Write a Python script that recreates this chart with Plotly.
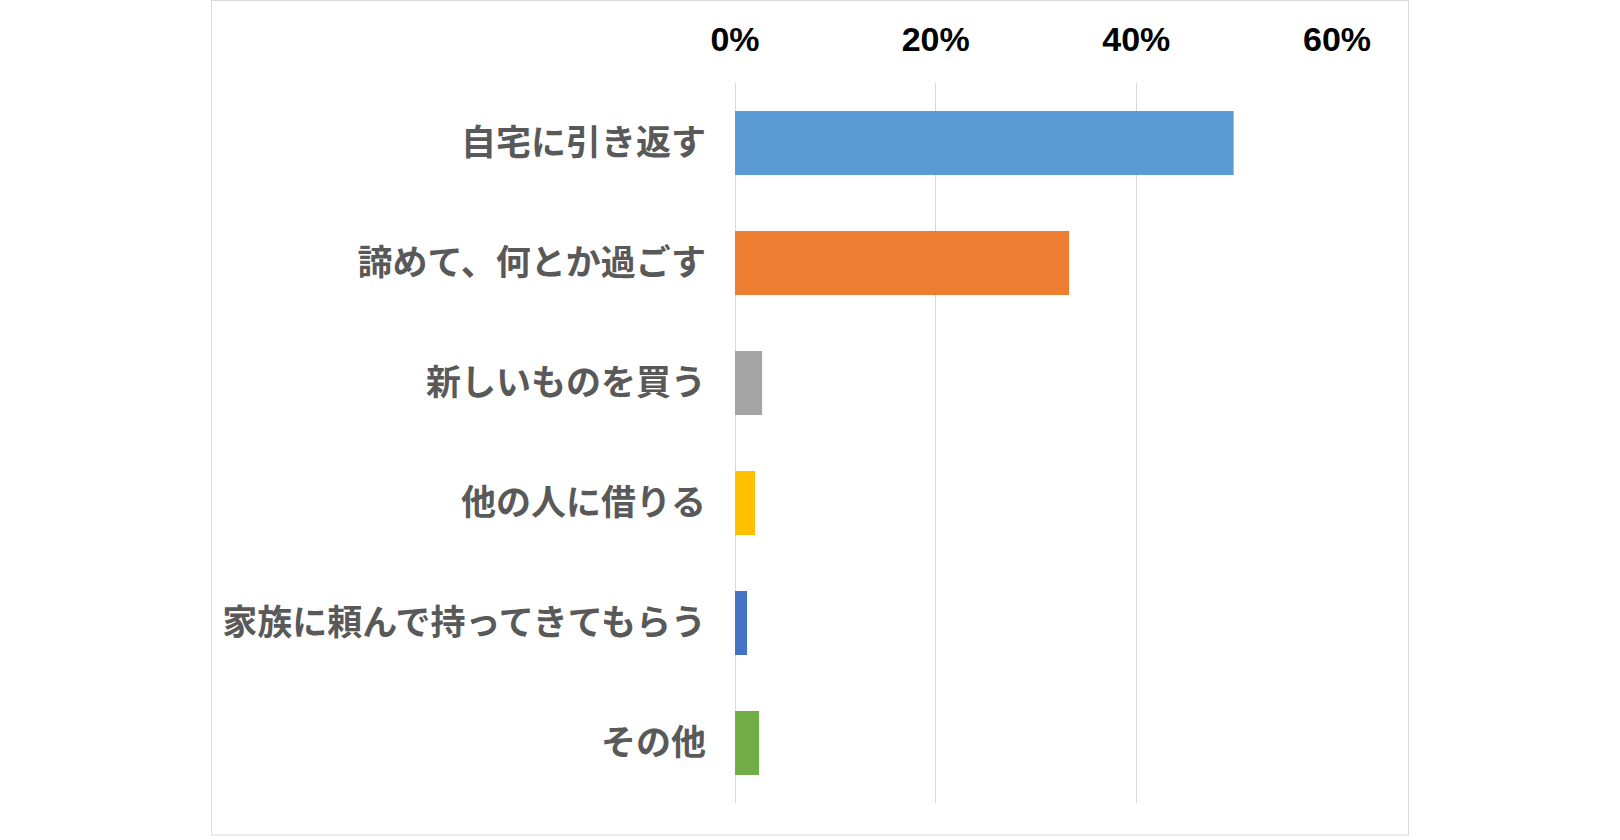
import plotly.graph_objects as go

categories = ["自宅に引き返す", "諦めて、何とか過ごす", "新しいものを買う", "他の人に借りる",
              "家族に頼んで持ってきてもらう", "その他"]
values = [0.497, 0.333, 0.027, 0.020, 0.012, 0.024]
colors = ["#5B9BD5", "#ED7D31", "#A5A5A5", "#FFC000", "#4472C4", "#70AD47"]
tick_vals = [0, 0.2, 0.4, 0.6]
tick_text = ["0%", "20%", "40%", "60%"]

W, H = 1620, 840
L, R, T, B = 735, 283, 83, 37
pw, ph = W - L - R, H - T - B

fig = go.Figure(go.Bar(
    x=values, y=categories, orientation="h",
    marker=dict(color=colors, line=dict(width=0)),
    hoverinfo="x+y",
))

def px_x(p):
    return (p - L) / pw

def px_y(p):
    return (H - B - p) / ph

fig.update_layout(
    width=W, height=H,
    margin=dict(l=L, r=R, t=T, b=B, autoexpand=False),
    paper_bgcolor="white", plot_bgcolor="white",
    bargap=0.467,
    showlegend=False,
    xaxis=dict(
        side="top", range=[0, 0.6], tickvals=tick_vals, ticktext=tick_text,
        showgrid=True, gridcolor="#D9D9D9", gridwidth=1,
        zeroline=True, zerolinecolor="#D9D9D9", zerolinewidth=1,
        showline=False, ticks="", ticklabelstandoff=24,
        tickfont=dict(family="Liberation Sans, Arial", size=34, color="#000000", weight="bold"),
        fixedrange=True,
    ),
    yaxis=dict(
        categoryorder="array", categoryarray=categories[::-1],
        showgrid=False, zeroline=False, showline=False, ticks="",
        ticklabelstandoff=28,
        tickfont=dict(family="Noto Sans CJK JP", size=35, color="#595959", weight="bold"),
        fixedrange=True,
    ),
    shapes=[dict(
        type="rect", xref="paper", yref="paper",
        x0=px_x(211.5), x1=px_x(1408.5), y0=px_y(835), y1=px_y(0.5),
        line=dict(color="#D9D9D9", width=1), fillcolor="rgba(0,0,0,0)", layer="below",
    )],
)

fig.write_html("out.html")
